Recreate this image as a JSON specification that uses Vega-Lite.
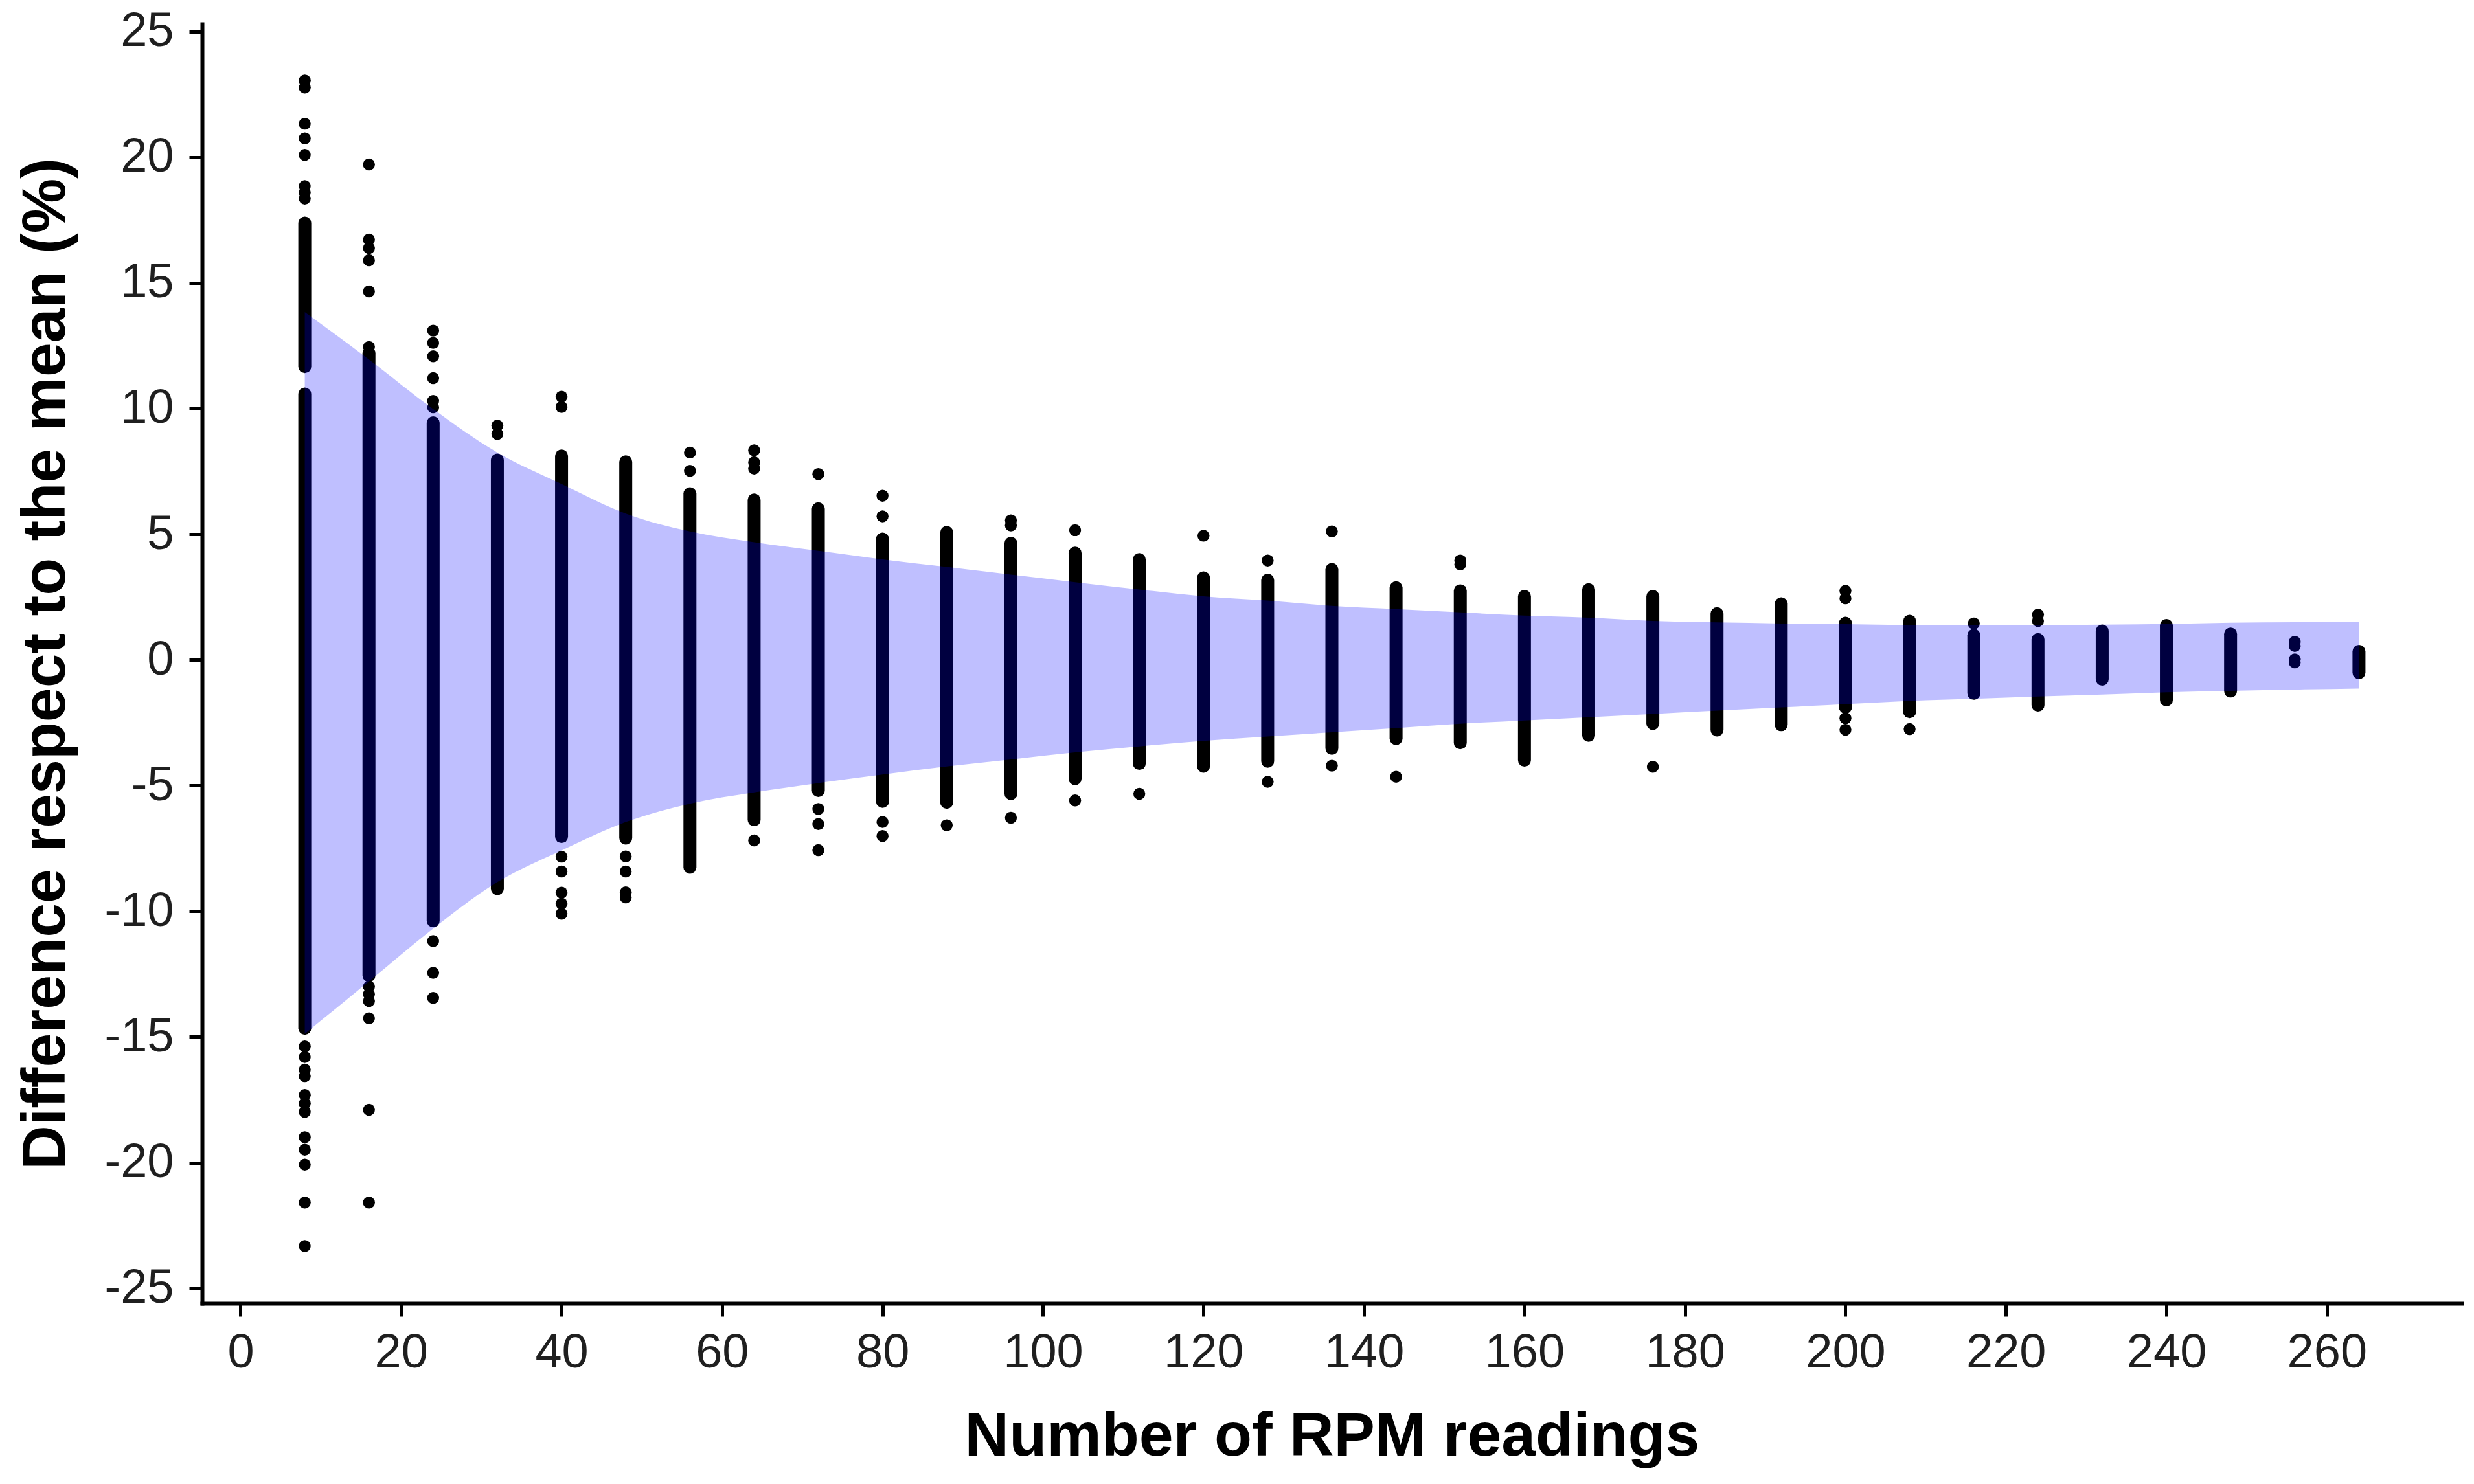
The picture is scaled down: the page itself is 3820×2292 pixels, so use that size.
{
  "$schema": "https://vega.github.io/schema/vega-lite/v6.json",
  "width": 3489,
  "height": 1976,
  "autosize": {"type": "none"},
  "padding": {"left": 312, "top": 37, "right": 19, "bottom": 279},
  "background": "white",
  "config": {
    "view": {"stroke": null},
    "axis": {
      "grid": false,
      "domainColor": "black",
      "domainWidth": 6,
      "domainCap": "square",
      "tickColor": "black",
      "tickWidth": 5,
      "tickSize": 20,
      "labelFont": "Liberation Sans",
      "labelFontSize": 74,
      "labelColor": "#1f1f1f",
      "labelOverlap": false,
      "labelFlush": false,
      "labelExpr": "toString(datum.value)",
      "titleFont": "Liberation Sans",
      "titleFontSize": 95,
      "titleFontWeight": "bold",
      "titleColor": "black"
    }
  },
  "datasets": {
    "segs": [
      {"x": 8, "lo": 11.67, "hi": 17.38},
      {"x": 8, "lo": -14.66, "hi": 10.58},
      {"x": 16, "lo": -12.56, "hi": 12.2},
      {"x": 24, "lo": -10.38, "hi": 9.43},
      {"x": 32, "lo": -9.1, "hi": 7.95},
      {"x": 40, "lo": -7.03, "hi": 8.11},
      {"x": 48, "lo": -7.09, "hi": 7.88},
      {"x": 56, "lo": -8.25, "hi": 6.61},
      {"x": 64, "lo": -6.36, "hi": 6.36},
      {"x": 72, "lo": -5.2, "hi": 6.01},
      {"x": 80, "lo": -5.63, "hi": 4.81},
      {"x": 88, "lo": -5.67, "hi": 5.07},
      {"x": 96, "lo": -5.32, "hi": 4.64},
      {"x": 104, "lo": -4.73, "hi": 4.25},
      {"x": 112, "lo": -4.12, "hi": 3.99},
      {"x": 120, "lo": -4.23, "hi": 3.26},
      {"x": 128, "lo": -4.03, "hi": 3.17},
      {"x": 136, "lo": -3.52, "hi": 3.6},
      {"x": 144, "lo": -3.13, "hi": 2.87},
      {"x": 152, "lo": -3.3, "hi": 2.75},
      {"x": 160, "lo": -3.99, "hi": 2.53},
      {"x": 168, "lo": -3.0, "hi": 2.79},
      {"x": 176, "lo": -2.53, "hi": 2.53},
      {"x": 184, "lo": -2.79, "hi": 1.84},
      {"x": 192, "lo": -2.58, "hi": 2.23},
      {"x": 200, "lo": -1.89, "hi": 1.46},
      {"x": 208, "lo": -2.06, "hi": 1.54},
      {"x": 216, "lo": -1.33, "hi": 0.98},
      {"x": 224, "lo": -1.8, "hi": 0.81},
      {"x": 232, "lo": -0.77, "hi": 1.15},
      {"x": 240, "lo": -1.59, "hi": 1.37},
      {"x": 248, "lo": -1.24, "hi": 1.03},
      {"x": 264, "lo": -0.51, "hi": 0.34}
    ],
    "pts": [
      {"x": 8, "y": 23.05}, {"x": 8, "y": 22.77}, {"x": 8, "y": 21.33}, {"x": 8, "y": 20.75}, {"x": 8, "y": 20.09},
      {"x": 8, "y": 18.85}, {"x": 8, "y": 18.6}, {"x": 8, "y": 18.35},
      {"x": 8, "y": -15.38}, {"x": 8, "y": -15.8}, {"x": 8, "y": -16.3}, {"x": 8, "y": -16.56}, {"x": 8, "y": -17.31},
      {"x": 8, "y": -17.65}, {"x": 8, "y": -17.98}, {"x": 8, "y": -18.99}, {"x": 8, "y": -19.49}, {"x": 8, "y": -20.08},
      {"x": 8, "y": -21.59}, {"x": 8, "y": -23.32},
      {"x": 16, "y": 19.71}, {"x": 16, "y": 16.72}, {"x": 16, "y": 16.39}, {"x": 16, "y": 15.9}, {"x": 16, "y": 14.66},
      {"x": 16, "y": 12.45}, {"x": 16, "y": -13.0}, {"x": 16, "y": -13.3}, {"x": 16, "y": -13.57}, {"x": 16, "y": -14.26},
      {"x": 16, "y": -17.9}, {"x": 16, "y": -21.59},
      {"x": 24, "y": 13.1}, {"x": 24, "y": 12.61}, {"x": 24, "y": 12.08}, {"x": 24, "y": 11.21}, {"x": 24, "y": 10.3},
      {"x": 24, "y": 10.05}, {"x": 24, "y": -11.19}, {"x": 24, "y": -12.45}, {"x": 24, "y": -13.45},
      {"x": 32, "y": 9.32}, {"x": 32, "y": 8.99},
      {"x": 40, "y": 10.47}, {"x": 40, "y": 10.06}, {"x": 40, "y": -7.83}, {"x": 40, "y": -8.42}, {"x": 40, "y": -9.26},
      {"x": 40, "y": -9.7}, {"x": 40, "y": -10.1},
      {"x": 48, "y": -7.82}, {"x": 48, "y": -8.42}, {"x": 48, "y": -9.25}, {"x": 48, "y": -9.45},
      {"x": 56, "y": 8.25}, {"x": 56, "y": 7.52},
      {"x": 64, "y": 8.34}, {"x": 64, "y": 7.86}, {"x": 64, "y": 7.61}, {"x": 64, "y": -7.18},
      {"x": 72, "y": 7.39}, {"x": 72, "y": -5.93}, {"x": 72, "y": -6.53}, {"x": 72, "y": -7.57},
      {"x": 80, "y": 6.53}, {"x": 80, "y": 5.71}, {"x": 80, "y": -6.45}, {"x": 80, "y": -7.01},
      {"x": 88, "y": -6.58},
      {"x": 96, "y": 5.55}, {"x": 96, "y": 5.35}, {"x": 96, "y": -6.28},
      {"x": 104, "y": 5.16}, {"x": 104, "y": -5.59},
      {"x": 112, "y": -5.33},
      {"x": 120, "y": 4.94},
      {"x": 128, "y": 3.95}, {"x": 128, "y": -4.85},
      {"x": 136, "y": 5.11}, {"x": 136, "y": -4.21},
      {"x": 144, "y": -4.65},
      {"x": 152, "y": 3.95}, {"x": 152, "y": 3.8},
      {"x": 176, "y": -4.25},
      {"x": 200, "y": 2.75}, {"x": 200, "y": 2.45}, {"x": 200, "y": -2.32}, {"x": 200, "y": -2.78},
      {"x": 208, "y": -2.75},
      {"x": 216, "y": 1.45},
      {"x": 224, "y": 1.8}, {"x": 224, "y": 1.55},
      {"x": 256, "y": 0.72}, {"x": 256, "y": 0.55}, {"x": 256, "y": 0.02}, {"x": 256, "y": -0.1}
    ],
    "band": [
      {"x": 8, "lo": -14.88, "hi": 13.84},
      {"x": 16, "lo": -12.79, "hi": 11.95},
      {"x": 24, "lo": -10.69, "hi": 9.98},
      {"x": 32, "lo": -8.84, "hi": 8.25},
      {"x": 40, "lo": -7.58, "hi": 7.0},
      {"x": 48, "lo": -6.45, "hi": 5.82},
      {"x": 56, "lo": -5.72, "hi": 5.11},
      {"x": 64, "lo": -5.27, "hi": 4.68},
      {"x": 72, "lo": -4.9, "hi": 4.34},
      {"x": 80, "lo": -4.56, "hi": 4.0},
      {"x": 88, "lo": -4.24, "hi": 3.7},
      {"x": 96, "lo": -3.96, "hi": 3.39},
      {"x": 104, "lo": -3.68, "hi": 3.09},
      {"x": 112, "lo": -3.44, "hi": 2.8},
      {"x": 120, "lo": -3.22, "hi": 2.53},
      {"x": 128, "lo": -3.05, "hi": 2.36},
      {"x": 136, "lo": -2.88, "hi": 2.15},
      {"x": 144, "lo": -2.71, "hi": 2.02},
      {"x": 152, "lo": -2.54, "hi": 1.89},
      {"x": 160, "lo": -2.41, "hi": 1.76},
      {"x": 168, "lo": -2.28, "hi": 1.68},
      {"x": 176, "lo": -2.15, "hi": 1.55},
      {"x": 184, "lo": -2.02, "hi": 1.49},
      {"x": 192, "lo": -1.89, "hi": 1.45},
      {"x": 200, "lo": -1.76, "hi": 1.42},
      {"x": 208, "lo": -1.63, "hi": 1.38},
      {"x": 216, "lo": -1.55, "hi": 1.37},
      {"x": 224, "lo": -1.46, "hi": 1.37},
      {"x": 232, "lo": -1.38, "hi": 1.4},
      {"x": 240, "lo": -1.29, "hi": 1.43},
      {"x": 248, "lo": -1.23, "hi": 1.48},
      {"x": 256, "lo": -1.18, "hi": 1.5},
      {"x": 264, "lo": -1.14, "hi": 1.52}
    ]
  },
  "encoding": {
    "x": {
      "field": "x",
      "type": "quantitative",
      "scale": {"domain": [-4.8, 276.8], "nice": false, "zero": false},
      "axis": {
        "title": "Number of RPM readings",
        "values": [0, 20, 40, 60, 80, 100, 120, 140, 160, 180, 200, 220, 240, 260],
        "labelPadding": 20,
        "titleY": 234,
        "titleBaseline": "alphabetic"
      }
    }
  },
  "layer": [
    {
      "data": {"name": "segs"},
      "mark": {"type": "rule", "color": "black", "strokeWidth": 20, "strokeCap": "round"},
      "encoding": {
        "y": {
          "field": "lo",
          "type": "quantitative",
          "scale": {"domain": [-25.6, 25.3], "nice": false, "zero": false},
          "axis": {
            "title": "Difference respect to the mean (%)",
            "values": [-25, -20, -15, -10, -5, 0, 5, 10, 15, 20, 25],
            "labelPadding": 24,
            "titleX": -213,
            "titleBaseline": "alphabetic"
          }
        },
        "y2": {"field": "hi"}
      }
    },
    {
      "data": {"name": "pts"},
      "mark": {"type": "circle", "color": "black", "opacity": 1, "size": 340},
      "encoding": {
        "y": {
          "field": "y",
          "type": "quantitative",
          "scale": {"domain": [-25.6, 25.3], "nice": false, "zero": false},
          "axis": {
            "title": "Difference respect to the mean (%)",
            "values": [-25, -20, -15, -10, -5, 0, 5, 10, 15, 20, 25],
            "labelPadding": 24,
            "titleX": -213,
            "titleBaseline": "alphabetic"
          }
        }
      }
    },
    {
      "data": {"name": "band"},
      "mark": {"type": "area", "color": "#0000ff", "opacity": 0.25, "interpolate": "monotone"},
      "encoding": {
        "y": {
          "field": "lo",
          "type": "quantitative",
          "scale": {"domain": [-25.6, 25.3], "nice": false, "zero": false},
          "axis": {
            "title": "Difference respect to the mean (%)",
            "values": [-25, -20, -15, -10, -5, 0, 5, 10, 15, 20, 25],
            "labelPadding": 24,
            "titleX": -213,
            "titleBaseline": "alphabetic"
          }
        },
        "y2": {"field": "hi"}
      }
    }
  ]
}
